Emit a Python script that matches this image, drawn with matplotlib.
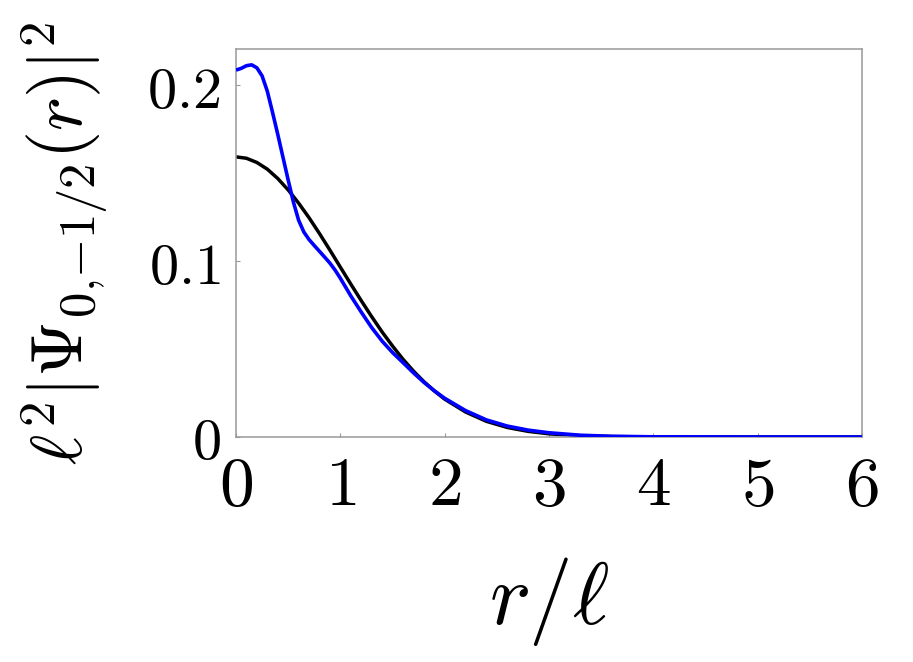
import matplotlib
matplotlib.use("Agg")
import matplotlib.pyplot as plt

plt.rcParams['mathtext.fontset'] = 'cm'

# black curve (reference)
r_black = [0.0, 0.1, 0.2, 0.3, 0.4, 0.5, 0.6, 0.7, 0.8, 0.9, 1.0, 1.1, 1.2, 1.3,
           1.4, 1.5, 1.6, 1.7, 1.8, 1.9, 2.0, 2.2, 2.4, 2.6, 2.8, 3.0, 3.3, 3.6,
           4.0, 5.0, 6.0]
v_black = [0.1592, 0.1584, 0.1560, 0.1522, 0.1469, 0.1404, 0.1329, 0.1246, 0.1156,
           0.1062, 0.0965, 0.0869, 0.0775, 0.0684, 0.0597, 0.0517, 0.0442, 0.0375,
           0.0315, 0.0262, 0.0215, 0.0142, 0.0089, 0.0054, 0.0032, 0.0018, 0.0007,
           0.00024, 0.00005, 0.0, 0.0]

# blue curve
r_blue = [0.0, 0.05, 0.10, 0.15, 0.20, 0.25, 0.30, 0.35, 0.40, 0.45, 0.50, 0.55,
          0.60, 0.65, 0.70, 0.75, 0.80, 0.85, 0.90, 0.95, 1.00, 1.10, 1.20, 1.30,
          1.40, 1.50, 1.60, 1.70, 1.80, 1.90, 2.00, 2.20, 2.40, 2.60, 2.80, 3.00,
          3.30, 3.60, 4.00, 5.00, 6.00]
v_blue = [0.2085, 0.2095, 0.2110, 0.2115, 0.2098, 0.2052, 0.1965, 0.1845, 0.1720,
          0.1590, 0.1460, 0.1335, 0.1232, 0.1165, 0.1122, 0.1088, 0.1055, 0.1022,
          0.0988, 0.0948, 0.0902, 0.0802, 0.0710, 0.0622, 0.0545, 0.0480, 0.0423,
          0.0365, 0.0311, 0.0263, 0.0220, 0.0150, 0.0097, 0.0062, 0.0039, 0.0024,
          0.0010, 0.0004, 0.0001, 0.0, 0.0]

x_ticks = [0, 1, 2, 3, 4, 5, 6]
x_ticklabels = ['$0$', '$1$', '$2$', '$3$', '$4$', '$5$', '$6$']
y_ticks = [0.0, 0.1, 0.2]
y_ticklabels = ['$0$', '$0.1$', '$0.2$']

fig = plt.figure(figsize=(9.13, 6.62), dpi=100)
ax = fig.add_axes([0.2585, 0.3399, 0.6857, 0.5861])

ax.plot(r_black, v_black, color='black', lw=2.5, solid_capstyle='butt', zorder=2)
ax.plot(r_blue, v_blue, color='#0000ff', lw=2.6, solid_capstyle='butt', zorder=3)

ax.set_xlim(0, 6)
ax.set_ylim(0, 0.2205)

for s in ax.spines.values():
    s.set_color('#999999')
    s.set_linewidth(1.1)

ax.set_xticks(x_ticks)
ax.set_xticklabels(x_ticklabels, fontsize=50)
ax.set_yticks(y_ticks)
ax.set_yticklabels(y_ticklabels, fontsize=42)
ax.tick_params(axis='x', direction='in', length=3, width=0.8, color='#999999', pad=11)
ax.tick_params(axis='y', direction='in', length=3, width=0.8, color='#999999', pad=11)

ax.set_xlabel(r'$r/\ell$', fontsize=63, labelpad=26)
ax.set_ylabel(r'$\ell^2|\Psi_{0{,}{-}1/2}(r)|^2$', fontsize=52)
ax.yaxis.label.set_va('baseline')
ax.yaxis.set_label_coords(-0.2444, 0.5)

fig.savefig('out.png', dpi=100)
